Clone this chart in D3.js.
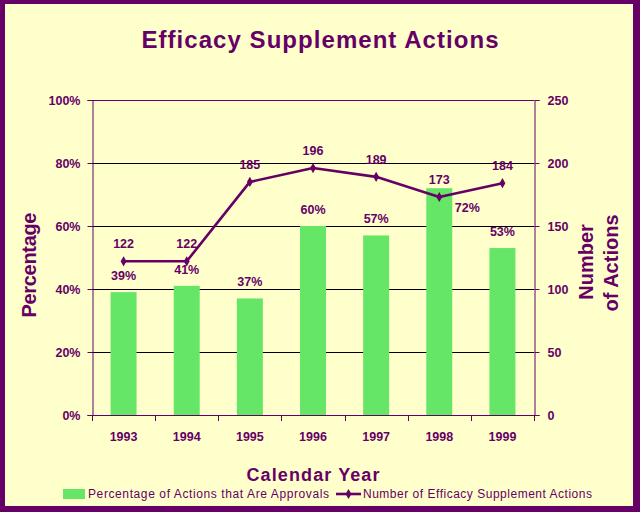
<!DOCTYPE html>
<html><head><meta charset="utf-8">
<script src="https://cdn.jsdelivr.net/npm/d3@7"></script>
<style>html,body{margin:0;padding:0;background:#fff}svg{display:block}text{font-family:Arial,"Liberation Sans",sans-serif}</style>
</head><body>
<svg id="c" width="640" height="512"></svg>
<script>
const years = ["1993","1994","1995","1996","1997","1998","1999"];
const pctApprovals = [39,41,37,60,57,72,53];
const numActions = [122,122,185,196,189,173,184];
const pctTicks = [0,20,40,60,80,100];
const numTicks = [0,50,100,150,200,250];

const purple = "#660066", bg = "#FFFFCC", green = "#66E666";
const svg = d3.select("#c");
svg.append("rect").attr("width",640).attr("height",512).attr("fill",purple);
svg.append("rect").attr("x",5).attr("y",4).attr("width",628).attr("height",502).attr("fill",bg);

const L=92,R=534,T=100,B=415;
const x = d3.scaleBand().domain(years).range([L,R]).paddingInner(0).paddingOuter(0);
const yP = d3.scaleLinear().domain([0,100]).range([B,T]);
const yN = d3.scaleLinear().domain([0,250]).range([B,T]);

// gridlines
svg.append("g").selectAll("line").data(pctTicks.filter(d=>d>0&&d<100)).join("line")
  .attr("x1",L).attr("x2",R).attr("y1",d=>yP(d)+0.5).attr("y2",d=>yP(d)+0.5)
  .attr("stroke","#000").attr("stroke-width",1);
svg.append("line").attr("x1",L).attr("x2",R).attr("y1",yP(100)+0.5).attr("y2",yP(100)+0.5).attr("stroke",purple);

// bars
const bw = 26;
svg.append("g").selectAll("rect").data(years).join("rect")
  .attr("x",(d)=>x(d)+x.bandwidth()/2-bw/2).attr("width",bw)
  .attr("y",(d,i)=>yP(pctApprovals[i])).attr("height",(d,i)=>B-yP(pctApprovals[i]))
  .attr("fill",green);

// axes
const fmtP = d=>d+"%";
const gl = svg.append("g").attr("transform",`translate(${L+0.5},0)`)
  .call(d3.axisLeft(yP).tickValues(pctTicks).tickFormat(fmtP).tickSize(5).tickPadding(7));
const gr = svg.append("g").attr("transform",`translate(${R+0.5},0)`)
  .call(d3.axisRight(yN).tickValues(numTicks).tickSize(5).tickPadding(8));
const gb = svg.append("g").attr("transform",`translate(0,${B+0.5})`)
  .call(d3.axisBottom(x).tickSize(0).tickPadding(17));
// category boundary ticks
svg.append("g").selectAll("line").data(years.concat(["end"])).join("line")
  .attr("x1",(d,i)=>Math.round(L+i*x.bandwidth())+0.5).attr("x2",(d,i)=>Math.round(L+i*x.bandwidth())+0.5)
  .attr("y1",B).attr("y2",B+6).attr("stroke",purple);
[gl,gr,gb].forEach(g=>{
  g.selectAll("path").attr("stroke",purple).attr("stroke-width",1);
  g.selectAll("line").attr("stroke",purple);
  g.selectAll("text").attr("fill",purple).attr("font-size",12.5).attr("font-weight","bold")
   .attr("font-family","Arial, 'Liberation Sans', sans-serif");
});
gb.select("path").attr("d",`M${L},0H${R}`);

// line
const cx = d=>x(d)+x.bandwidth()/2;
const line = d3.line().x((d,i)=>cx(years[i])).y(d=>yN(d));
svg.append("path").datum(numActions).attr("d",line).attr("fill","none")
  .attr("stroke",purple).attr("stroke-width",2.6).attr("stroke-linejoin","round");
const diamond = d3.symbol().type(d3.symbolDiamond).size(30);
svg.append("g").selectAll("path").data(numActions).join("path")
  .attr("d",diamond).attr("transform",(d,i)=>`translate(${cx(years[i])},${yN(d)})`).attr("fill",purple);

// data labels
svg.append("g").selectAll("text").data(numActions).join("text")
  .attr("x",(d,i)=>cx(years[i])).attr("y",d=>yN(d)-13).attr("text-anchor","middle")
  .attr("fill",purple).attr("font-size",12.5).attr("font-weight","bold").text(d=>d);
svg.append("g").selectAll("text").data(pctApprovals).join("text")
  .each(function(d,i){
    const collide = yP(d) < yN(numActions[i]) + 10;
    d3.select(this)
      .attr("x", cx(years[i]) + (collide?28:0))
      .attr("y", collide ? yP(d)+24 : yP(d)-12);
  })
  .attr("text-anchor","middle").attr("fill",purple).attr("font-size",12.5).attr("font-weight","bold")
  .text(d=>d+"%");

// titles
svg.append("text").attr("x",320).attr("y",48).attr("text-anchor","middle")
  .attr("fill",purple).attr("font-size",24).attr("font-weight","bold")
  .attr("textLength",357).attr("lengthAdjust","spacing").text("Efficacy Supplement Actions");
svg.append("text").attr("transform","translate(36,265) rotate(-90)").attr("text-anchor","middle")
  .attr("fill",purple).attr("font-size",20).attr("font-weight","bold")
  .attr("textLength",105).attr("lengthAdjust","spacing").text("Percentage");
svg.append("text").attr("transform","translate(593,262) rotate(-90)").attr("text-anchor","middle")
  .attr("fill",purple).attr("font-size",20).attr("font-weight","bold").text("Number");
svg.append("text").attr("transform","translate(618,263) rotate(-90)").attr("text-anchor","middle")
  .attr("fill",purple).attr("font-size",20).attr("font-weight","bold").text("of Actions");
svg.append("text").attr("x",313).attr("y",481).attr("text-anchor","middle")
  .attr("fill",purple).attr("font-size",18).attr("font-weight","bold")
  .attr("textLength",133).attr("lengthAdjust","spacing").text("Calendar Year");

// legend
const lg = svg.append("g");
lg.append("rect").attr("x",63).attr("y",489).attr("width",22).attr("height",10).attr("fill",green);
lg.append("text").attr("x",88).attr("y",498).attr("fill",purple).attr("font-size",12)
  .attr("textLength",241).attr("lengthAdjust","spacing").text("Percentage of Actions that Are Approvals");
lg.append("line").attr("x1",336).attr("x2",361).attr("y1",494).attr("y2",494).attr("stroke",purple).attr("stroke-width",2.6);
lg.append("path").attr("d",diamond).attr("transform","translate(348.5,494)").attr("fill",purple);
lg.append("text").attr("x",363).attr("y",498).attr("fill",purple).attr("font-size",12)
  .attr("textLength",229).attr("lengthAdjust","spacing").text("Number of Efficacy Supplement Actions");
</script>
</body></html>
